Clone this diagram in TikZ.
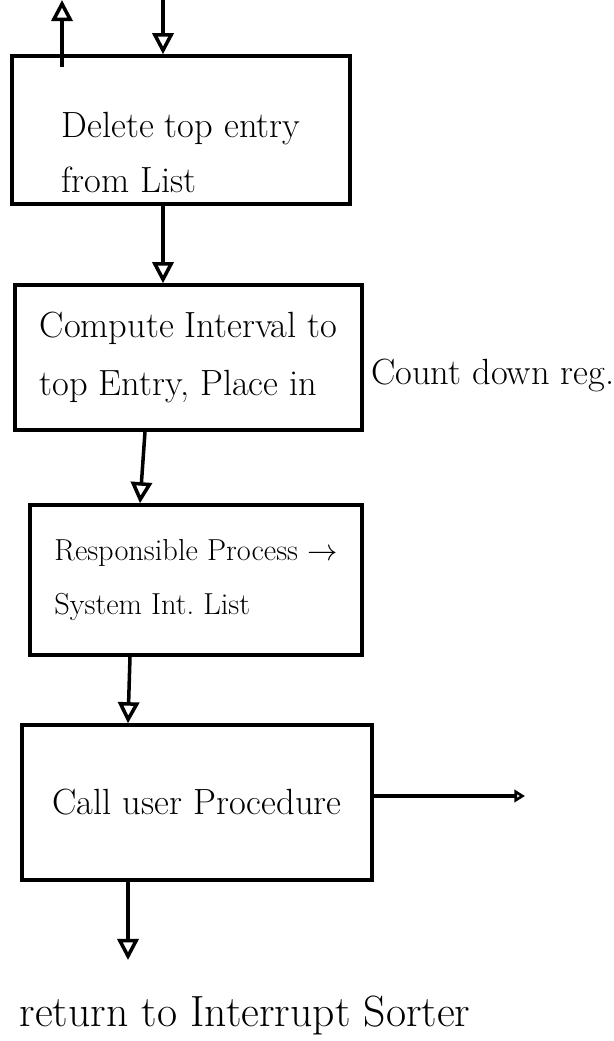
\documentclass[tikz,border=0pt]{standalone}
\usetikzlibrary{arrows.meta}
\begin{document}
\begin{tikzpicture}
	\tikzset{b/.style={draw=black, line width=2pt, align=left, font=\huge},
	f/.style={-{Triangle[open, width=12pt, length=12pt]}, line width=2pt},
	fs/.style={-{Triangle[open, width=7pt, length=6pt]}, line width=2pt}};
	\useasboundingbox (0,0) rectangle (12.28,-20.82);

	\node[b, minimum width=6.76cm, minimum height=2.96cm] (b1) at (3.62,-2.6) {\rule{0pt}{1.4cm}Delete top entry\\[6pt] from List};
	\node[b, minimum width=6.94cm, minimum height=2.9cm] (b2) at (3.77,-7.15) {Compute Interval to\\[8pt] top Entry, Place in};
	\node[anchor=west, font=\huge] (cd) at (7.3,-7.5) {Count down reg.};
	\node[b, font=\LARGE, minimum width=6.64cm, minimum height=3cm] (b3) at (3.92,-11.6) {Responsible Process $\rightarrow$\\[9pt] System Int.\ List};
	\node[b, minimum width=7cm, minimum height=3.1cm] (b4) at (3.94,-16.05) {Call user Procedure};
	\node[font=\Huge] (rt) at (4.9,-20.3) {return to Interrupt Sorter};

	\coordinate (up) at (1.24,0);
	\coordinate (in) at (3.26,0);
	\coordinate (ret) at (2.56,-19.2);
	\coordinate (callout) at (10.5,-15.92);

	\draw[f] (in) -- (in |- b1.north);
	\draw[f] ([yshift=-0.26cm]b1.north -| up) -- (up);
	\draw[f] (b1.south -| in) -- (b2.north -| in);
	\draw[f] ([xshift=-0.87cm]b2.south) -- ([xshift=-1.12cm]b3.north);
	\draw[f] ([xshift=-1.32cm]b3.south) -- ([xshift=-1.38cm]b4.north);
	\draw[f] (b4.south -| ret) -- (ret);
	\draw[fs] (b4.east |- callout) -- (callout);
\end{tikzpicture}
\end{document}
